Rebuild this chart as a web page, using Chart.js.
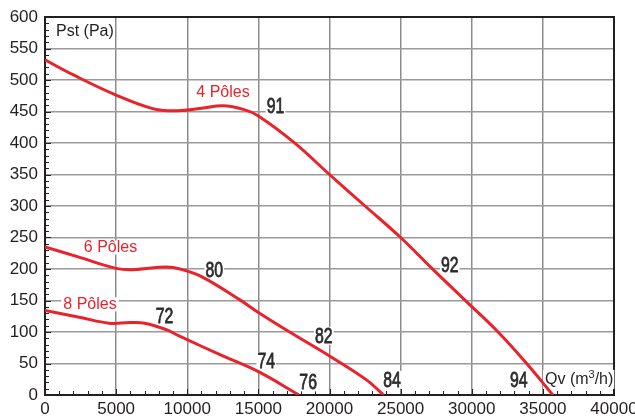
<!DOCTYPE html>
<html>
<head>
<meta charset="utf-8">
<script src="https://cdn.jsdelivr.net/npm/chart.js@4"></script>
<style>
  html, body { margin: 0; padding: 0; background: #fff; }
  #wrap { width: 635px; height: 416px; }
</style>
</head>
<body>
<div id="wrap"><canvas id="chart" width="635" height="416"></canvas></div>
<script>
// courbes : débit Qv (m3/h) / pression Pst (Pa)
const qv4 = [0, 2000, 5000, 7500, 9000, 11000, 12500, 14000, 15000, 17500, 20000, 22500, 25000, 27200, 29500, 31850, 33860, 35700]
const pst4 = [532, 508, 476, 455, 451, 455, 459, 453, 443, 401, 350, 300, 250, 201, 151, 100, 50, 0]

const qv6 = [0, 2500, 5000, 6200, 8500, 9500, 11000, 13700, 15000, 17200, 20000, 22600, 23800]
const pst6 = [235, 218, 201, 199, 203, 200, 188, 151, 131, 100, 62, 24, 0]

const qv8 = [0, 2500, 4500, 6000, 7000, 8500, 9500, 12500, 15000, 17850]
const pst8 = [134, 123, 114, 115, 114, 104, 93, 62, 37, 0]

const xTicks = [0, 5000, 10000, 15000, 20000, 25000, 30000, 35000, 40000]
const yTicks = [0, 50, 100, 150, 200, 250, 300, 350, 400, 450, 500, 550, 600]

// étiquettes de rendement (texte, qv, pst)
const effLabels = ['91', '80', '72', '82', '74', '76', '84', '92', '94']
const effQv = [16200, 11900, 8400, 19600, 15550, 18500, 24400, 28450, 33300]
const effPst = [459, 199, 126, 94, 54, 20, 24, 206, 24]

const curveNames = ['4 Pôles', '6 Pôles', '8 Pôles']
const curveNameQv = [12513, 4605, 3163]
const curveNamePst = [480, 234, 144]

const RED = '#e8232b'
const INK = '#231f20'

const toPoints = (xs, ys) => xs.map((x, i) => ({ x: x, y: ys[i] }))

const labelsPlugin = {
  id: 'labels',
  beforeDatasetsDraw(chart) {
    const { ctx, chartArea, scales } = chart
    const x = scales.x
    const y = scales.y

    // petits traits de graduation à l'intérieur
    ctx.save()
    ctx.strokeStyle = INK
    ctx.lineWidth = 1
    ctx.beginPath()
    for (let v = 0; v <= 600; v += 10) {
      const py = Math.round(y.getPixelForValue(v)) + 0.5
      ctx.moveTo(chartArea.left, py)
      ctx.lineTo(chartArea.left + (v % 50 === 0 ? 6 : 4), py)
    }
    for (let v = 0; v <= 40000; v += 1000) {
      const px = Math.round(x.getPixelForValue(v)) + 0.5
      ctx.moveTo(px, chartArea.bottom)
      ctx.lineTo(px, chartArea.bottom - (v % 5000 === 0 ? 6 : 4))
    }
    ctx.stroke()

    // cadre
    ctx.strokeStyle = INK
    ctx.lineWidth = 2
    ctx.strokeRect(chartArea.left, chartArea.top, chartArea.right - chartArea.left, chartArea.bottom - chartArea.top)

    ctx.textBaseline = 'middle'

    // rendements (police étroite)
    const sx = 0.72
    ctx.font = '22px "Liberation Sans", Arial, sans-serif'
    ctx.textAlign = 'center'
    effLabels.forEach((t, i) => {
      const px = x.getPixelForValue(effQv[i])
      const py = y.getPixelForValue(effPst[i])
      const w = ctx.measureText(t).width * sx
      ctx.fillStyle = '#fff'
      ctx.fillRect(px - w / 2 - 1, py - 9, w + 2, 18)
      ctx.save()
      ctx.translate(px, py + 1)
      ctx.scale(sx, 1)
      ctx.fillStyle = '#2b2b2b'
      ctx.strokeStyle = '#2b2b2b'
      ctx.lineWidth = 0.8
      ctx.fillText(t, 0, 0)
      ctx.strokeText(t, 0, 0)
      ctx.restore()
    })

    // nom des courbes
    ctx.font = '16px "Liberation Sans", Arial, sans-serif'
    curveNames.forEach((t, i) => {
      const px = x.getPixelForValue(curveNameQv[i])
      const py = y.getPixelForValue(curveNamePst[i])
      const w = ctx.measureText(t).width
      ctx.fillStyle = '#fff'
      ctx.fillRect(px - w / 2 - 2, py - 7, w + 4, 14)
      ctx.fillStyle = RED
      ctx.fillText(t, px, py)
    })

    // titres des axes
    ctx.font = '16px "Liberation Sans", Arial, sans-serif'
    ctx.textAlign = 'left'
    ctx.fillStyle = INK
    ctx.fillText('Pst (Pa)', x.getPixelForValue(773), y.getPixelForValue(577))

    const qx = x.getPixelForValue(35150)
    const qy = y.getPixelForValue(24)
    const parts = ['Qv (m', '3', '/h)']
    ctx.font = '16px "Liberation Sans", Arial, sans-serif'
    const w1 = ctx.measureText(parts[0]).width
    const w3 = ctx.measureText(parts[2]).width
    ctx.font = '11px "Liberation Sans", Arial, sans-serif'
    const w2 = ctx.measureText(parts[1]).width
    ctx.fillStyle = '#fff'
    ctx.fillRect(qx - 2, qy - 10, w1 + w2 + w3 + 3, 19)
    ctx.fillStyle = INK
    ctx.font = '16px "Liberation Sans", Arial, sans-serif'
    ctx.fillText(parts[0], qx, qy)
    ctx.font = '11px "Liberation Sans", Arial, sans-serif'
    ctx.fillText(parts[1], qx + w1, qy - 5)
    ctx.font = '16px "Liberation Sans", Arial, sans-serif'
    ctx.fillText(parts[2], qx + w1 + w2, qy)
    ctx.restore()
  },
}

const lineStyle = {
  borderColor: RED,
  backgroundColor: RED,
  borderWidth: 3,
  pointRadius: 0,
  fill: false,
  tension: 0.4,
}

new Chart(document.getElementById('chart'), {
  type: 'line',
  data: {
    datasets: [
      Object.assign({ label: curveNames[0], data: toPoints(qv4, pst4) }, lineStyle),
      Object.assign({ label: curveNames[1], data: toPoints(qv6, pst6) }, lineStyle),
      Object.assign({ label: curveNames[2], data: toPoints(qv8, pst8) }, lineStyle),
    ],
  },
  options: {
    responsive: false,
    animation: false,
    layout: { padding: { top: 17, right: 21, left: 0, bottom: 0 } },
    plugins: {
      legend: { display: false },
      tooltip: { enabled: false },
    },
    scales: {
      x: {
        type: 'linear',
        min: 0,
        max: 40000,
        afterBuildTicks: scale => { scale.ticks = xTicks.map(v => ({ value: v })) },
        afterFit: scale => {
          scale.height = 21
          scale.paddingRight = 0
          scale.paddingLeft = 0
        },
        grid: { color: '#8c8c8c', lineWidth: 1.5, drawTicks: false },
        border: { display: false },
        ticks: {
          padding: 4,
          maxRotation: 0,
          autoSkip: false,
          color: INK,
          font: { family: '"Liberation Sans", Arial, sans-serif', size: 17 },
          callback: v => String(v),
        },
      },
      y: {
        type: 'linear',
        min: 0,
        max: 600,
        afterBuildTicks: scale => { scale.ticks = yTicks.map(v => ({ value: v })) },
        afterFit: scale => {
          scale.width = 45
          scale.paddingTop = 0
          scale.paddingBottom = 0
        },
        grid: { color: '#9a9a9a', lineWidth: 1.5, drawTicks: false },
        border: { display: false },
        ticks: {
          padding: 7,
          autoSkip: false,
          color: INK,
          font: { family: '"Liberation Sans", Arial, sans-serif', size: 17 },
        },
      },
    },
  },
  plugins: [labelsPlugin],
})
</script>
</body>
</html>
